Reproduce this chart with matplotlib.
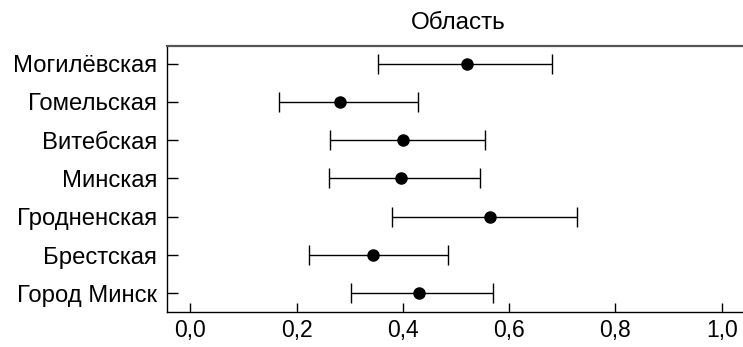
import numpy as np
import matplotlib
matplotlib.use("Agg")
import matplotlib.pyplot as plt

plt.rcParams['font.family'] = ['Liberation Sans', 'DejaVu Sans']

# Данные (снизу вверх)
regions = ['Город Минск', 'Брестская', 'Гродненская', 'Минская',
           'Витебская', 'Гомельская', 'Могилёвская']
means = [0.431, 0.343, 0.564, 0.396, 0.400, 0.282, 0.521]
lower = [0.302, 0.224, 0.379, 0.262, 0.263, 0.168, 0.354]
upper = [0.570, 0.485, 0.727, 0.545, 0.554, 0.428, 0.680]
xticks = [0.0, 0.2, 0.4, 0.6, 0.8, 1.0]
xticklabels = ['0,0', '0,2', '0,4', '0,6', '0,8', '1,0']

y = np.arange(len(regions))
means = np.array(means)
err = [means - np.array(lower), np.array(upper) - means]

fig = plt.figure(figsize=(7.43, 3.47), dpi=100)
ax = fig.add_axes([0.2245, 0.1017, 0.7755, 0.766])

ax.errorbar(means, y, xerr=err, fmt='o', color='black', ecolor='black',
            markersize=8, elinewidth=1.0, capsize=7.5, capthick=1.0)

ax.set_xlim(-0.044, 1.04)
ax.set_ylim(-0.48, 6.46)
ax.set_yticks(y)
ax.set_yticklabels(regions)
ax.set_xticks(xticks)
ax.set_xticklabels(xticklabels)

ax.tick_params(axis='y', direction='in', length=8, width=1, pad=7, labelsize=17.2)
ax.tick_params(axis='x', direction='in', length=6.5, width=1, pad=5, labelsize=16.5)

ax.spines['right'].set_visible(False)
ax.spines['top'].set_color('#555555')
ax.spines['top'].set_linewidth(1.6)
ax.spines['left'].set_linewidth(1.0)
ax.spines['bottom'].set_linewidth(1.0)

# заголовок немного правее центра оси
ax.set_title('Область', fontsize=17.5, pad=12)
ax.title.set_x(0.505)

fig.savefig('out.png', dpi=100)
